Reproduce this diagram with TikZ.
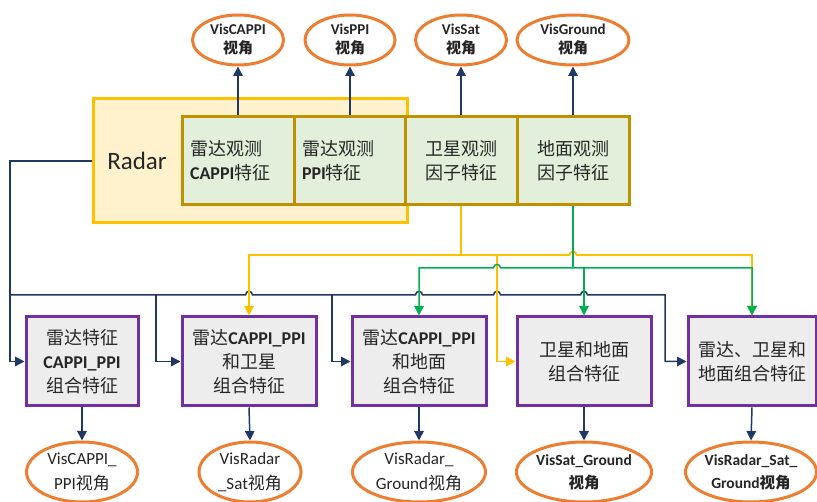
\documentclass[tikz,border=0pt]{standalone}
\usepackage{fontspec}
\setmainfont{Carlito}
\newfontfamily\cjkfont{Noto Sans CJK SC}
\newcommand\zh[1]{{\cjkfont #1}}
\usetikzlibrary{shapes.geometric,arrows.meta}
\definecolor{navyc}{HTML}{1F3864}
\definecolor{yelc}{HTML}{FFC000}
\definecolor{grnc}{HTML}{00B050}
\definecolor{orgc}{HTML}{ED7D31}
\definecolor{goldc}{HTML}{BF9000}
\definecolor{radfill}{HTML}{FFF2CC}
\definecolor{featfill}{HTML}{E2EFDA}
\definecolor{purpc}{HTML}{7030A0}
\definecolor{combfill}{HTML}{EDEDED}
\definecolor{txtc}{HTML}{262626}
\begin{document}
\begin{tikzpicture}[x=1pt,y=-1pt,
  tip/.style={-{Triangle[length=9.5pt,width=9.5pt]}},
  both/.style={{Triangle[length=9.5pt,width=9.5pt]}-{Triangle[length=9.5pt,width=9.5pt]}},
  navyln/.style={draw=navyc,line width=1.5pt},
  yelln/.style={draw=yelc,line width=1.8pt},
  grnln/.style={draw=grnc,line width=1.5pt},
  viewell/.style={ellipse,draw=orgc,line width=3pt,fill=white,inner sep=0pt,align=center,text=txtc},
  featbox/.style={rectangle,draw=goldc,line width=3pt,fill=featfill,inner sep=0pt,minimum height=88pt,minimum width=112pt,align=center,text=txtc,font=\fontsize{18}{24}\selectfont},
  featleft/.style={featbox,align=left,text width=96pt,inner xsep=8pt,minimum width=112pt},
  combbox/.style={rectangle,draw=purpc,line width=3pt,fill=combfill,inner sep=0pt,minimum height=89pt,align=center,text=txtc,font=\fontsize{18}{24}\selectfont},
  radarbox/.style={rectangle,draw=yelc,line width=3pt,fill=radfill,minimum width=314pt,minimum height=124pt,inner sep=0pt}
]
\useasboundingbox (0,0) rectangle (817,502);

% Radar frame
\node[radarbox] (radar) at (250,161) {};
\node[text=txtc,font=\fontsize{25}{30}\selectfont] (radarlbl) at (137,161) {Radar};

% feature boxes
\node[featleft] (capf) at (238,161) {\zh{雷达观测}\\\textbf{CAPPI}\zh{特征}};
\node[featleft] (ppif) at (350,161) {\zh{雷达观测}\\\textbf{PPI}\zh{特征}};
\node[featbox] (satf) at (461,161) {\zh{卫星观测}\\\zh{因子特征}};
\node[featbox] (gndf) at (573,161) {\zh{地面观测}\\\zh{因子特征}};

% top views
\node[viewell,minimum width=91pt,minimum height=50pt,font=\bfseries\fontsize{15}{19}\selectfont] (vcap) at (238,40) {VisCAPPI\\\zh{视角}};
\node[viewell,minimum width=90pt,minimum height=50pt,font=\bfseries\fontsize{15}{19}\selectfont] (vppi) at (350,40) {VisPPI\\\zh{视角}};
\node[viewell,minimum width=91pt,minimum height=50pt,font=\bfseries\fontsize{15}{19}\selectfont] (vsat) at (461,40) {VisSat\\\zh{视角}};
\node[viewell,minimum width=112pt,minimum height=50pt,font=\bfseries\fontsize{15}{19}\selectfont] (vgnd) at (573,40) {VisGround\\\zh{视角}};

\draw[navyln,tip] (capf.north) -- (vcap.south);
\draw[navyln,tip] (ppif.north) -- (vppi.south);
\draw[navyln,tip] (satf.north) -- (vsat.south);
\draw[navyln,tip] (gndf.north) -- (vgnd.south);

% combination boxes
\node[combbox,minimum width=112pt] (c1) at (82,361.5) {\zh{雷达特征}\\\textbf{CAPPI\_PPI}\\\zh{组合特征}};
\node[combbox,minimum width=134pt] (c2) at (249,361.5) {\zh{雷达}\textbf{CAPPI\_PPI}\\\zh{和卫星}\\\zh{组合特征}};
\node[combbox,minimum width=134pt] (c3) at (419,361.5) {\zh{雷达}\textbf{CAPPI\_PPI}\\\zh{和地面}\\\zh{组合特征}};
\node[combbox,minimum width=134pt] (c4) at (584,361.5) {\zh{卫星和地面}\\\zh{组合特征}};
\node[combbox,minimum width=128pt] (c5) at (752,361.5) {\zh{雷达、卫星和}\\\zh{地面组合特征}};

% navy connectors
\coordinate (nbus) at (10,295);
\draw[navyln,tip] (radar.west) -| (nbus) |- (c1.west);
\draw[navyln,tip] (nbus) -- (245.5,295) .. controls (245.5,290.3) and (252.5,290.3) .. (252.5,295)
  -- (415.5,295) .. controls (415.5,290.3) and (422.5,290.3) .. (422.5,295)
  -- (493.5,295) .. controls (493.5,290.3) and (500.5,290.3) .. (500.5,295)
  -- (580.5,295) .. controls (580.5,290.3) and (587.5,290.3) .. (587.5,295)
  -- (665,295) |- (c5.west);
\draw[navyln,tip] (156,295) |- (c2.west);
\draw[navyln,tip] (332,295) |- (c3.west);

% yellow connectors
\coordinate (ybus) at (461,255);
\draw[yelln] (satf.south) -- (ybus);
\draw[yelln,both] (c2.north) |- (569.5,255) .. controls (569.5,250.3) and (576.5,250.3) .. (576.5,255) -| (c5.north);
\draw[yelln,tip] (497,255) |- (c4.west);

% green connectors
\coordinate (gbus) at (573,268);
\draw[grnln] (gndf.south) -- (gbus);
\draw[grnln,both] (c3.north) |- (493.5,268) .. controls (493.5,263.3) and (500.5,263.3) .. (500.5,268) -| (c5.north);
\draw[grnln,tip] (c4.north |- gbus) -- (c4.north);

% bottom views
\node[viewell,minimum width=111pt,minimum height=60pt,font=\fontsize{17}{25}\selectfont] (w1) at (82,472) {VisCAPPI\_\\PPI\zh{视角}};
\node[viewell,minimum width=102pt,minimum height=60pt,font=\fontsize{17}{25}\selectfont] (w2) at (250,472) {VisRadar\\\_Sat\zh{视角}};
\node[viewell,minimum width=133pt,minimum height=60pt,font=\fontsize{17}{25}\selectfont] (w3) at (419,472) {VisRadar\_\\Ground\zh{视角}};
\node[viewell,minimum width=134pt,minimum height=60pt,font=\bfseries\fontsize{15.5}{23}\selectfont] (w4) at (584,472) {VisSat\_Ground\\\zh{视角}};
\node[viewell,minimum width=130pt,minimum height=60pt,font=\bfseries\fontsize{15.5}{23}\selectfont] (w5) at (751,472) {VisRadar\_Sat\_\\Ground\zh{视角}};

\draw[navyln,tip] (c1.south) -- (w1.north);
\draw[navyln,tip] (c2.south) -- (w2.north);
\draw[navyln,tip] (c3.south) -- (w3.north);
\draw[navyln,tip] (c4.south) -- (w4.north);
\draw[navyln,tip] (c5.south) -- (w5.north);
\end{tikzpicture}
\end{document}
